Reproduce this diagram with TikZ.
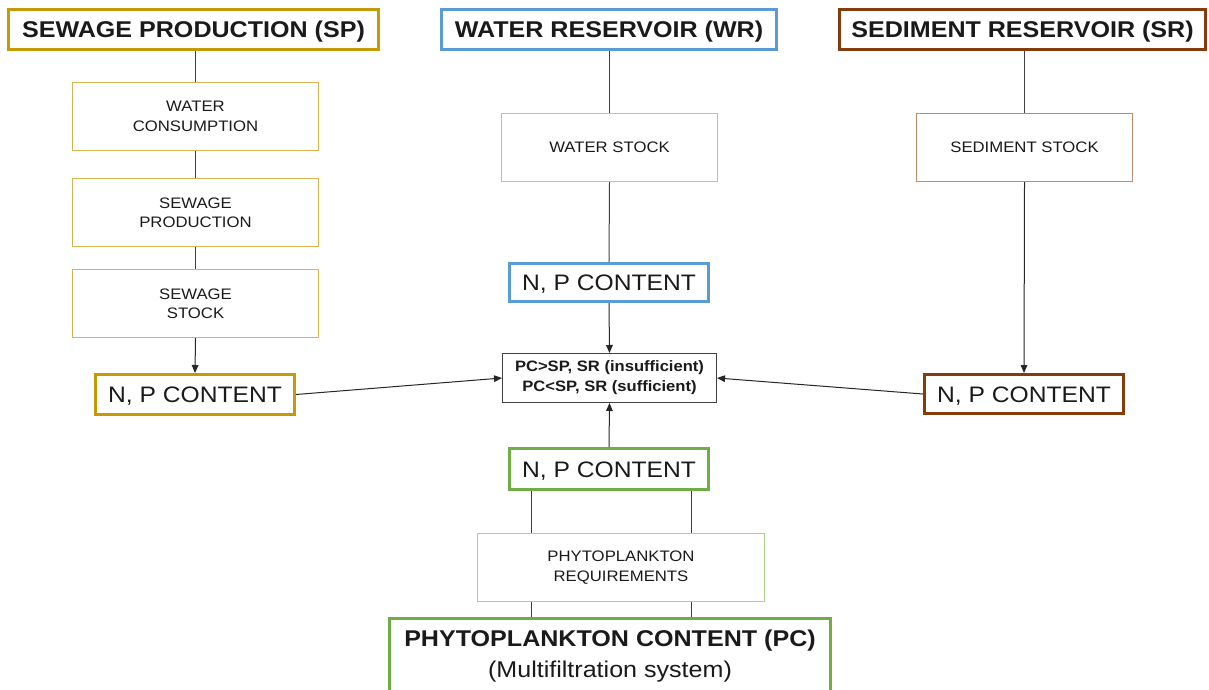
\documentclass[tikz,border=0pt]{standalone}
\usepackage{fontspec}
\setmainfont{Liberation Sans}[FakeStretch=1.1]
\usetikzlibrary{arrows.meta}

\definecolor{spgold}{HTML}{C49A06}
\definecolor{spgoldlt}{HTML}{D5B554}
\definecolor{wrblue}{HTML}{5B9BD5}
\definecolor{wrbluelt}{HTML}{9DC3E6}
\definecolor{srbrown}{HTML}{843C0C}
\definecolor{srbrownlt}{HTML}{B98C6E}
\definecolor{pcgreen}{HTML}{70AD47}
\definecolor{pcgreenlt}{HTML}{A9D18E}
\definecolor{ink}{HTML}{1A1A1A}
\definecolor{wire}{HTML}{404040}

\begin{document}
\begin{tikzpicture}[x=0.75pt,y=-0.75pt,
  header/.style={draw=#1, line width=2.25pt, fill=white, inner sep=0pt,
    minimum height=40*0.75pt, text=ink, text height=12.2pt, text depth=0pt,
    font=\fontsize{17.1}{20}\selectfont\bfseries},
  npbox/.style={draw=#1, line width=2.25pt, fill=white, inner sep=0pt,
    minimum width=199*0.75pt, text=ink, text height=12pt, text depth=0pt,
    font=\fontsize{16.8}{20}\selectfont},
  stepbox/.style={draw=#1, line width=0.75pt, fill=white, inner sep=0pt,
    align=center, minimum height=68*0.75pt, text=ink,
    font=\fontsize{11.4}{14.5}\selectfont},
  condbox/.style={draw=wire, line width=0.75pt, fill=white, inner sep=0pt,
    align=center, minimum width=214*0.75pt, minimum height=49*0.75pt,
    text=ink, font=\fontsize{11.3}{15}\selectfont\bfseries},
  pcbox/.style={draw=pcgreen, line width=2.25pt, fill=white, inner sep=0pt,
    align=center, minimum width=441*0.75pt, minimum height=76*0.75pt,
    text=ink, font=\fontsize{17.1}{23.6}\selectfont},
  wireline/.style={draw=wire, line width=0.75pt},
  arr/.style={draw=black!85, line width=0.75pt,
    -{Triangle[length=6pt,width=5pt]}}
]
\useasboundingbox (0,0) rectangle (1209,689);

% column headers
\node[header=spgold, minimum width=370*0.75pt] (sp) at (193.5,29.5) {SEWAGE PRODUCTION (SP)};
\node[header=wrblue, minimum width=335*0.75pt] (wr) at (609,29.5) {WATER RESERVOIR (WR)};
\node[header=srbrown, minimum width=366*0.75pt] (sr) at (1022.5,29.5) {SEDIMENT RESERVOIR (SR)};

% sewage production column
\node[stepbox=spgoldlt, minimum width=246*0.75pt] (wc) at (195.5,116.5) {WATER\\CONSUMPTION};
\node[stepbox=spgoldlt, minimum width=246*0.75pt] (sprod) at (195.5,212.5) {SEWAGE\\PRODUCTION};
\node[stepbox=spgoldlt, minimum width=246*0.75pt] (sstock) at (195.5,303.5) {SEWAGE\\STOCK};
\node[npbox=spgold, minimum height=40*0.75pt] (spnp) at (195,394.5) {N, P CONTENT};

% water reservoir column
\node[stepbox=wrbluelt, minimum width=216*0.75pt] (wstock) at (609.5,147.5) {WATER STOCK};
\node[npbox=wrblue, minimum height=38*0.75pt] (wrnp) at (609,282.5) {N, P CONTENT};

% sediment reservoir column
\node[stepbox=srbrownlt, minimum width=216*0.75pt] (sedstock) at (1024.5,147.5) {SEDIMENT STOCK};
\node[npbox=srbrown, minimum height=39*0.75pt] (srnp) at (1024,394) {N, P CONTENT};

% comparison box
\node[condbox] (cond) at (609.5,378) {PC>SP, SR (insufficient)\\PC<SP, SR (sufficient)};

% phytoplankton column
\node[npbox=pcgreen, minimum height=41*0.75pt] (gnp) at (609,469) {N, P CONTENT};
\node[stepbox=pcgreenlt, minimum width=287*0.75pt] (pr) at (621,567.5) {PHYTOPLANKTON\\REQUIREMENTS};
\node[pcbox] (pc) at (610,656) {\textbf{PHYTOPLANKTON CONTENT (PC)}\\(Multifiltration system)};

% plain links
\draw[wireline] (wc.north) -- (wc.north |- sp.south);
\draw[wireline] (wc.south) -- (sprod.north);
\draw[wireline] (sprod.south) -- (sstock.north);
\draw[wireline] (wstock.north) -- (wstock.north |- wr.south);
\draw[wireline] (wstock.south) -- (wrnp.north);
\draw[wireline] (sedstock.north) -- (sedstock.north |- sr.south);

\coordinate (lx) at (531,0);
\coordinate (rx) at (691,0);
\draw[wireline] (gnp.south -| lx) -- (pr.north -| lx);
\draw[wireline] (gnp.south -| rx) -- (pr.north -| rx);
\draw[wireline] (pr.south -| lx) -- (pc.north -| lx);
\draw[wireline] (pr.south -| rx) -- (pc.north -| rx);

% arrows
\draw[arr] (sstock.south) -- (spnp.north);
\draw[arr] (sedstock.south) -- (srnp.north);
\draw[arr] (wrnp.south) -- (cond.north);
\draw[arr] (gnp.north) -- (cond.south);
\draw[arr] (spnp.east) -- (cond.west);
\draw[arr] (srnp.west) -- (cond.east);
\end{tikzpicture}
\end{document}
